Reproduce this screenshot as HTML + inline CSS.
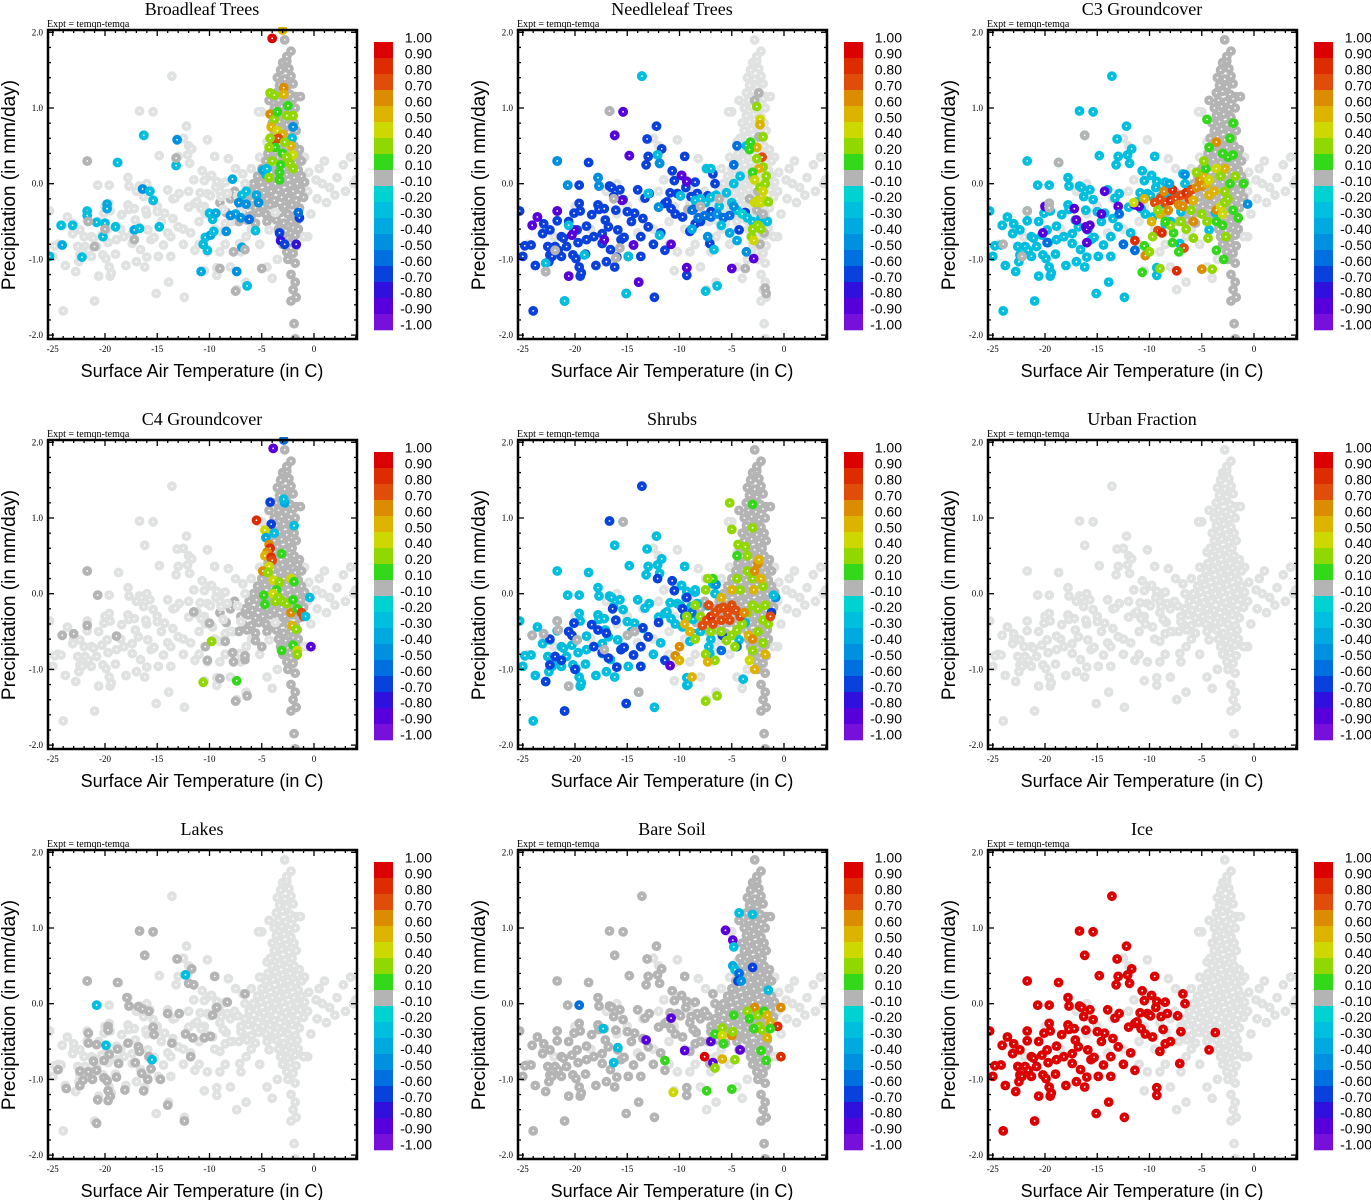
<!DOCTYPE html>
<html><head><meta charset="utf-8"><style>
html,body{margin:0;padding:0;background:#fff}
svg{display:block}
text{font-family:"Liberation Sans",sans-serif}
.serif{font-family:"Liberation Serif",serif}
</style></head><body>
<svg id="fig" xmlns="http://www.w3.org/2000/svg" width="1371" height="1200" viewBox="0 0 1371 1200"></svg>
<script>
// ---------- shared data ----------
const panelTitles = ["Broadleaf Trees","Needleleaf Trees","C3 Groundcover","C4 Groundcover","Shrubs","Urban Fraction","Lakes","Bare Soil","Ice"];
const xTicks = [-25,-20,-15,-10,-5,0];
const xTickLabels = ["-25","-20","-15","-10","-5","0"];
const yTicks = [2,1,0,-1,-2];
const yTickLabels = ["2.0","1.0","0.0","-1.0","-2.0"];
const cbEdges = [1.0,0.9,0.8,0.7,0.6,0.5,0.4,0.2,0.1,-0.1,-0.2,-0.3,-0.4,-0.5,-0.6,-0.7,-0.8,-0.9,-1.0];
const cbLabels = ["1.00","0.90","0.80","0.70","0.60","0.50","0.40","0.20","0.10","-0.10","-0.20","-0.30","-0.40","-0.50","-0.60","-0.70","-0.80","-0.90","-1.00"];
const cbColors = ["#dc0000","#dc2c00","#e04c0a","#dc8c00","#dcb400","#ccd800","#90d800","#34d81a","#b4b4b4","#00d2d2","#00bede","#00aae0","#0090e0","#0070e0","#0a40dc","#3010dc","#5800dc","#7810dc"];

const coldPts = [[-25.3,-0.36],[-25.0,-0.96],[-24.8,-0.82],[-24.2,-0.81],[-24.1,-0.55],[-23.8,-1.08],[-24.0,-1.68],[-23.6,-0.44],[-23.1,-0.66],[-23.0,-0.53],[-22.8,-1.16],[-22.6,-0.83],[-22.5,-1.03],[-22.4,-0.94],[-22.4,-0.61],[-22.2,-0.96],[-21.7,0.30],[-21.7,-0.36],[-21.7,-0.49],[-21.9,-0.83],[-21.6,-0.88],[-21.3,-0.96],[-21.3,-0.70],[-21.1,-0.72],[-21.0,-1.55],[-20.8,-0.83],[-20.6,-0.50],[-20.7,-0.02],[-20.6,-1.22],[-20.3,-0.68],[-20.2,-0.94],[-20.1,-0.39],[-19.9,-0.99],[-19.8,-0.61],[-19.7,-0.78],[-19.6,-0.02],[-19.6,-1.10],[-19.5,-1.22],[-19.4,-1.18],[-19.6,-0.26],[-19.5,-0.36],[-19.0,-0.93],[-18.9,-0.56],[-18.7,0.28],[-18.9,-0.74],[-18.4,-0.41],[-18.0,-1.08],[-18.2,-0.70],[-17.8,0.08],[-17.7,-0.03],[-17.8,-0.28],[-17.7,-0.34],[-17.4,-0.79],[-17.4,-0.66],[-17.2,-0.33],[-17.1,-0.48],[-17.0,-1.03],[-16.8,-0.57],[-16.7,-0.03],[-16.7,0.96],[-16.6,-0.87],[-16.5,-0.05],[-16.3,-0.17],[-16.2,0.64],[-16.2,-1.10],[-16.1,-0.35],[-16.0,-0.97],[-15.9,-0.61],[-15.7,-0.08],[-15.6,-0.74],[-15.4,0.95],[-15.4,-0.21],[-15.3,-0.71],[-15.1,-1.45],[-15.0,-0.37],[-14.9,-0.96],[-14.8,0.37],[-14.6,-0.50],[-14.4,-0.81],[-14.3,-0.39],[-14.0,-0.08],[-13.9,-1.30],[-13.7,-0.70],[-13.7,-0.96],[-13.6,1.42],[-13.5,-0.46],[-13.3,-0.19],[-13.2,0.25],[-13.0,0.36],[-13.0,-0.57],[-12.9,-0.13],[-13.1,0.59],[-12.5,-0.80],[-12.4,-1.50],[-12.2,0.76],[-12.1,0.38],[-12.0,-0.31],[-11.9,0.27],[-11.8,-0.65],[-11.7,0.46],[-11.4,-0.26],[-11.4,-0.88],[-11.2,-0.24],[-10.9,-0.12],[-10.8,-0.33],[-10.7,0.17],[-10.5,0.04],[-10.4,-0.40],[-10.2,-0.13],[-9.9,-0.16],[-9.8,0.11],[-9.7,-0.44],[-9.5,0.36],[-9.4,-0.05],[-9.3,-1.11],[-9.3,-1.21],[-9.3,0.03],[-9.0,-0.63],[-8.9,-0.17],[-8.7,-0.34],[-8.5,0.02],[-8.5,-0.53],[-8.3,-0.13],[-8.0,-0.50],[-7.3,-0.16],[-7.1,-0.79],[-7.0,-0.37],[-6.8,0.13],[-6.6,0.00],[-4.3,-0.61],[-3.7,-0.38]];

const corePts = [[-3.0,1.6],[-2.6,1.62],[-3.2,1.5],[-2.4,1.52],[-3.5,1.4],[-2.8,1.38],[-2.2,1.42],[-3.3,1.3],[-2.6,1.28],[-2.0,1.32],[-3.6,1.2],[-3.0,1.22],[-2.3,1.18],[-1.7,1.15],[-3.4,1.1],[-2.7,1.08],[-2.0,1.12],[-3.8,1.0],[-3.1,1.02],[-2.4,0.98],[-1.8,1.0],[-3.6,0.9],[-2.9,0.92],[-2.2,0.88],[-4.0,0.8],[-3.3,0.82],[-2.6,0.78],[-1.9,0.8],[-3.8,0.7],[-3.1,0.72],[-2.4,0.68],[-1.7,0.7],[-4.2,0.6],[-3.5,0.62],[-2.8,0.58],[-2.1,0.6],[-4.0,0.5],[-3.3,0.52],[-2.6,0.48],[-1.9,0.5],[-1.4,0.45],[-4.4,0.4],[-3.7,0.42],[-3.0,0.38],[-2.3,0.4],[-1.6,0.38],[-4.6,0.3],[-3.9,0.32],[-3.2,0.28],[-2.5,0.3],[-1.8,0.28],[-1.2,0.3],[-5.0,0.2],[-4.3,0.22],[-3.6,0.18],[-2.9,0.2],[-2.2,0.22],[-1.5,0.18],[-5.4,0.1],[-4.7,0.12],[-4.0,0.08],[-3.3,0.1],[-2.6,0.12],[-1.9,0.08],[-1.2,0.1],[-5.8,0.0],[-5.1,0.02],[-4.4,-0.02],[-3.7,0.0],[-3.0,0.02],[-2.3,-0.02],[-1.6,0.0],[-0.9,0.02],[-6.2,-0.1],[-5.5,-0.08],[-4.8,-0.12],[-4.1,-0.1],[-3.4,-0.08],[-2.7,-0.12],[-2.0,-0.1],[-1.3,-0.08],[-6.6,-0.2],[-5.9,-0.22],[-5.2,-0.18],[-4.5,-0.2],[-3.8,-0.22],[-3.1,-0.18],[-2.4,-0.2],[-1.7,-0.22],[-1.0,-0.18],[-7.0,-0.3],[-6.3,-0.28],[-5.6,-0.32],[-4.9,-0.3],[-4.2,-0.28],[-3.5,-0.32],[-2.8,-0.3],[-2.1,-0.28],[-1.4,-0.32],[-6.8,-0.4],[-6.0,-0.42],[-5.3,-0.38],[-4.6,-0.4],[-3.9,-0.42],[-3.2,-0.38],[-2.5,-0.4],[-1.8,-0.42],[-7.2,-0.5],[-6.4,-0.48],[-5.6,-0.52],[-4.5,-0.5],[-3.6,-0.48],[-2.9,-0.52],[-2.2,-0.5],[-1.6,-0.48],[-3.4,-0.6],[-2.7,-0.62],[-2.0,-0.58],[-1.5,-0.6],[-3.2,-0.7],[-2.5,-0.72],[-1.8,-0.68],[-3.0,-0.8],[-2.3,-0.78],[-1.7,-0.82],[-2.6,-0.9],[-2.0,-0.92],[-8.0,-0.2],[-9.0,-0.25],[-8.4,-0.38],[-7.6,-0.1],[-2.5,-1.0],[-1.8,-1.05],[-2.2,-1.2],[-1.8,-1.3],[-2.0,-1.4],[-1.7,-1.5],[-2.2,-1.55],[-1.9,-1.85],[-1.8,-2.05],[-2.8,1.9],[-2.2,1.75],[-2.6,1.68],[-3.6,1.2],[-4.3,1.1],[-1.3,1.15]];

const fringePts = [[-0.5,0.15],[0.2,0.05],[0.8,0.0],[1.5,-0.05],[2.2,0.08],[3.0,-0.1],[3.8,0.0],[2.8,0.25],[1.0,0.3],[-0.6,-0.1],[0.3,-0.2],[1.2,-0.25],[-0.3,-0.4],[-0.6,-0.7],[4.0,0.05],[2.0,-0.15],[-0.9,0.35],[3.5,0.35],[0.5,0.2],[-1.0,-0.7],[-9.0,-0.1],[-10.0,0.1],[-11.0,-0.5],[-9.5,-0.6],[-8.5,-0.8],[-7.8,-0.5],[-7.0,-0.9],[-6.0,-0.6],[-5.2,-0.8],[-4.5,-1.1],[-8.0,-1.1],[-6.5,-1.3],[-7.4,-1.4],[-9.0,-0.9],[-10.5,-1.15],[-10.2,-0.9],[-6.0,0.2],[-5.2,0.35],[-4.5,0.55],[-5.0,0.95],[-10.2,0.58],[-8.2,0.33],[-7.5,0.2],[-12.5,0.6],[-13.5,-0.2],[-12.0,-0.1],[-11.5,0.05],[-12.5,-0.6],[-11.0,-0.8],[-14.0,-0.65],[-15.0,-0.3],[-16.0,-0.4],[-17.0,-0.1],[-18.5,-0.6],[-20.0,-0.3],[-22.0,-0.7],[-23.0,-0.6],[-24.5,-0.8],[-3.5,-1.0],[-4.0,-1.25],[-5.3,0.95],[-16.0,0.0],[-12.0,0.5],[-6.5,-0.7],[-8.8,0.0],[-10.5,-0.3]];

// ---------- per panel values ----------
const coreValues = [0, null, 0, 0, 0, null, null, 0, null];
const coldDefaults = [null, -0.65, -0.22, null, -0.25, null, null, 0, 0.95];

const marksBroadleaf = [[-16.3,0.64,-0.25],[-13.1,0.58,-0.45],[-18.8,0.28,-0.3],[-13.2,0.24,-0.25],[-16.4,-0.07,-0.45],[-15.7,-0.1,-0.25],[-15.4,-0.22,-0.3],[-19.8,-0.27,-0.35],[-19.8,-0.33,-0.35],[-21.7,-0.36,-0.25],[-21.7,-0.42,-0.25],[-20.8,-0.51,-0.25],[-20.0,-0.52,-0.25],[-19.0,-0.57,-0.25],[-23.1,-0.55,-0.25],[-24.2,-0.55,-0.25],[-17.2,-0.61,-0.35],[-16.7,-0.59,-0.25],[-14.8,-0.57,-0.25],[-20.2,-0.7,-0.25],[-24.1,-0.81,-0.35],[-22.2,-0.97,-0.3],[-25.3,-0.96,-0.25],[-10.8,-1.16,-0.35],[-7.4,-1.16,-0.45],[-6.4,-1.35,-0.25],[-10.4,-0.71,-0.3],[-9.9,-0.68,-0.4],[-9.6,-0.63,-0.3],[-8.4,-0.63,-0.45],[-10.6,-0.8,-0.3],[-10.2,-0.88,-0.25],[-6.9,-0.84,-0.35],[-5.6,-0.62,-0.25],[-10.0,-0.39,-0.25],[-9.7,-0.47,-0.25],[-9.4,-0.39,-0.4],[-7.8,0.06,-0.35],
[-21.7,0.3,0],[-13.2,0.34,0],[-21.6,-0.5,0],[-20.0,-0.6,0],[-17.2,-0.74,0],[-21.0,-0.83,0],[-9.0,-1.12,0],[-7.5,-1.42,0],[-5.0,-1.12,0],[-7.7,-0.9,0],[-6.6,-0.87,0],
[-4.6,0.12,-0.25],[-4.9,0.18,-0.4],[-6.5,-0.1,-0.3],[-6.9,-0.15,-0.3],[-5.5,-0.15,-0.35],[-7.2,-0.25,-0.45],[-6.5,-0.27,-0.45],[-5.3,-0.25,-0.5],[-7.5,-0.4,-0.35],[-7.0,-0.45,-0.5],[-6.2,-0.47,-0.55],[-8.0,-0.42,-0.5],[-3.3,-0.65,-0.65],[-3.2,-0.75,-0.75],[-2.8,-0.8,-0.7],[-1.7,-0.8,-0.8],[-1.4,-0.45,-0.65],[-1.5,-0.38,-0.6],[-2.0,0.75,-0.5],[-2.1,0.6,-0.25],[-4.5,0.2,-0.25],
[-4.0,1.92,0.95],[-3.0,2.03,0.55],[-2.9,1.27,0.6],[-2.9,1.18,0.5],[-4.2,1.2,0.35],[-3.8,1.17,0.2],[-2.5,1.03,0.15],[-4.2,0.92,0.65],[-3.8,0.85,0.35],[-2.6,0.9,0.35],[-2.0,0.9,0.2],[-4.1,0.75,0.5],[-3.5,0.7,0.45],[-3.0,0.65,0.5],[-3.7,0.58,0.85],[-3.4,0.6,0.7],[-4.2,0.6,0.25],[-3.7,0.48,0.15],[-4.3,0.48,0.25],[-2.2,0.5,0.55],[-2.0,0.38,0.45],[-3.0,0.4,0.15],[-2.6,0.35,0.3],[-2.3,0.27,0.3],[-3.2,0.25,0.15],[-2.0,0.2,0.2],[-3.3,0.15,0.15],[-4.3,0.08,0.25],[-3.3,0.05,0.15],[-2.8,0.55,0.2],[-3.5,0.95,0.15],[-4.0,0.3,0.35]];

const marksNeedleleaf = [[-15.4,0.95,-0.85],[-16.2,0.64,-0.85],[-14.8,0.37,-0.85],[-24.1,-0.55,-0.85],[-23.6,-0.44,-0.85],[-21.7,-0.36,-0.85],[-20.1,-0.61,-0.85],[-20.3,-0.68,-0.85],[-17.2,-0.74,-0.85],[-14.4,-0.81,-0.85],[-13.9,-1.3,-0.85],[-9.3,-1.11,-0.85],[-9.8,0.11,-0.85],[-9.3,0.03,-0.85],[-15.5,-0.22,-0.85],[-20.6,-1.22,-0.85],[-10.8,-0.8,-0.85],[-5.0,-1.12,-0.85],[-2.9,-0.99,-0.85],
[-13.6,1.42,-0.25],[-12.1,0.38,-0.25],[-20.6,-0.55,-0.25],[-21.0,-1.55,-0.25],[-15.1,-1.45,-0.25],[-22.8,-1.05,-0.25],[-19.1,-0.94,-0.25],[-14.9,-0.96,-0.25],[-7.5,-1.42,-0.25],[-6.4,-1.35,-0.25],[-11.9,-0.68,-0.25],[-6.7,-0.87,-0.25],[-13.0,-0.13,-0.25],[-9.9,-0.16,-0.25],
[-21.7,0.30,-0.45],[-17.8,0.08,-0.45],[-17.7,-0.03,-0.45],[-20.7,-0.02,-0.45],[-12.0,-0.31,-0.45],[-11.9,0.27,-0.45],
[-16.7,0.96,0],[-22.8,-1.16,0],[-16.1,-0.98,0],[-15.7,-0.85,0],[-21.9,-0.88,0],[-9.2,-0.34,0],[-16.3,-0.2,0],
[-8.5,-0.22,-0.25],[-8.0,-0.2,-0.3],[-7.5,-0.25,-0.25],[-7.0,-0.18,-0.3],[-6.5,-0.15,-0.25],[-6.2,-0.3,-0.25],[-5.5,-0.12,-0.3],[-5.0,-0.25,-0.25],[-4.5,-0.35,-0.25],[-4.0,-0.4,-0.2],[-3.5,-0.45,-0.25],[-8.8,-0.35,-0.55],[-8.2,-0.45,-0.6],[-7.6,-0.42,-0.55],[-7.0,-0.44,-0.6],[-6.4,-0.4,-0.5],[-5.8,-0.45,-0.6],[-5.2,-0.42,-0.55],[-4.8,-0.3,-0.5],[-8.8,-0.6,-0.4],[-7.3,-0.7,-0.5],[-5.2,-0.65,-0.35],[-4.5,-0.75,-0.35],[-4.8,0.0,-0.25],[-4.2,0.1,-0.3],[-4.8,0.25,-0.6],[-4.5,0.5,-0.6],[-3.6,0.5,-0.3],[-7.4,0.2,-0.3],[-7.0,0.2,-0.25],[-6.0,-0.55,-0.3],[-3.6,-0.9,-0.5],[-3.0,-0.5,-0.3],[-2.2,-0.45,-0.25],[-1.6,-0.5,-0.3],
[-2.4,1.2,0],[-2.8,1.1,0],[-2.4,0.62,0],[-3.0,0.1,0],[-2.5,-0.1,0],[-2.0,-0.4,0],[-2.6,-0.35,0],[-2.3,-0.8,0],[-1.9,-0.65,0],[-3.3,-0.2,0],[-1.8,-1.38,0],[-1.7,-1.45,0],[-6.2,-0.2,0],[-8.0,-0.3,0],[-3.7,-1.12,0],
[-2.6,1.02,0.2],[-2.3,0.85,0.4],[-2.3,0.78,0.55],[-2.0,0.62,0.2],[-2.6,0.48,0.55],[-3.2,0.55,0.15],[-2.1,0.35,0.7],[-2.6,0.33,0.3],[-2.0,0.22,0.2],[-2.4,0.2,0.5],[-3.0,0.15,0.15],[-2.8,0.05,0.4],[-1.8,0.0,0.2],[-2.3,-0.05,0.2],[-2.0,-0.1,0.4],[-2.8,-0.25,0.45],[-2.5,-0.22,0.4],[-2.2,-0.25,0.45],[-1.8,-0.22,0.4],[-1.5,-0.24,0.3],[-3.0,-0.6,0.2],[-3.1,-0.7,0.3],[-2.9,-0.75,0.4],[-2.5,-0.55,0.2],[-2.2,-0.6,0.25],[-3.3,0.45,0.15],[-1.7,0.1,0.3]];

const marksC3 = [[-17.2,-0.33,-0.85],[-17.0,-0.48,-0.85],[-16.1,-0.57,-0.85],[-16.0,-0.6,-0.85],[-15.7,-0.55,-0.85],[-14.6,-0.4,-0.85],[-20.0,-0.3,-0.85],[-20.2,-0.65,-0.85],[-14.3,-0.1,-0.85],[-13.0,-0.3,-0.85],[-11.4,-0.28,-0.85],[-11.0,-0.3,-0.85],[-16.0,-0.78,-0.85],
[-19.8,-0.78,-0.6],[-12.5,-0.8,-0.6],[-11.4,-0.88,-0.6],[-12.9,-0.4,-0.6],
[-16.2,0.64,0],[-18.7,0.28,0],[-21.7,-0.36,0],[-24.0,-0.8,0],[-22.2,-0.96,0],[-19.6,-0.26,0],[-19.6,-0.32,0],
[-9.5,-0.25,0.7],[-9.0,-0.2,0.75],[-8.5,-0.25,0.75],[-8.0,-0.22,0.8],[-7.5,-0.2,0.75],[-7.0,-0.15,0.75],[-6.5,-0.12,0.8],[-6.0,-0.08,0.7],[-5.5,-0.05,0.6],[-5.0,-0.03,0.6],[-4.5,0.0,0.55],[-5.2,0.05,0.6],[-4.8,0.1,0.55],[-6.2,-0.2,0.7],[-7.2,-0.28,0.65],[-8.2,-0.35,0.6],[-9.0,-0.4,0.55],[-8.6,-0.1,0.65],[-7.8,-0.08,0.8],[-6.8,-0.3,0.6],[-5.8,-0.22,0.55],[-4.3,-0.15,0.5],[-3.8,-0.1,0.5],[-3.6,-0.35,0.6],[-3.2,-0.3,0.45],[-3.0,-0.4,0.4],[-2.8,-0.25,0.35],[-3.6,0.55,0.6],[-2.8,0.2,0.5],[-3.6,0.2,0.45],[-4.3,0.05,0.4],[-9.8,-0.5,0.5],[-10.5,-0.2,0.5],[-11.5,-0.25,0.45],[-9.2,-0.62,0.75],[-8.8,-0.65,0.8],[-11.4,-0.75,0.8],[-10.4,-0.95,0.6],[-6.7,-0.85,0.75],[-7.4,-1.15,0.8],[-5.0,-1.13,0.65],[-5.8,-0.5,0.6],
[-4.5,0.85,0.15],[-2.0,0.8,0.15],[-2.3,0.6,0.15],[-4.3,0.48,0.15],[-3.0,0.4,0.15],[-2.5,0.35,0.15],[-2.0,0.38,0.15],[-4.6,0.2,0.15],[-3.2,0.1,0.2],[-2.3,0.0,0.15],[-1.0,0.0,0.15],[-2.5,-0.2,0.2],[-2.0,-0.35,0.15],[-1.5,-0.45,0.15],[-3.6,-0.5,0.15],[-3.0,-0.55,0.15],[-2.7,-0.7,0.25],[-4.4,-0.72,0.3],[-3.6,-0.88,0.15],[-2.9,-1.0,0.15],[-4.0,-1.13,0.25],[-5.8,-0.72,0.3],[-7.7,-0.65,0.15],[-7.8,-0.78,0.15],[-7.2,-0.9,0.15],[-9.7,-0.7,0.25],[-10.5,-0.82,0.15],[-10.0,-0.9,0.3],[-10.7,-1.17,0.15],[-9.0,-1.12,0.25],[-8.0,-0.55,0.2],[-7.0,-0.5,0.25],[-6.0,-0.35,0.25],[-5.0,-0.4,0.3],[-4.5,-0.5,0.2],[-9.2,-0.35,0.3],[-8.5,-0.5,0.15],[-5.5,0.15,0.2],[-4.8,0.3,0.2],[-2.8,-0.1,0.3],[-1.8,0.1,0.2],[-6.5,-0.6,0.3],
[-0.6,-0.27,-0.5],[-6.6,0.12,-0.5],[-8.1,0.0,-0.4]];

const marksC4 = [[-21.7,0.3,0],[-20.7,-0.02,0],[-21.7,-0.42,0],[-24.1,-0.55,0],[-23.0,-0.53,0],[-18.9,-0.56,0],[-11.5,-0.24,0],[-10.0,-0.39,0],[-10.4,-0.7,0],[-10.2,-0.88,0],[-9.0,-1.12,0],[-8.5,-0.63,0],[-7.8,-0.78,0],[-7.7,-0.9,0],[-6.6,-0.87,0],[-6.6,-0.82,0],[-7.5,-1.42,0],[-6.4,-1.35,0],[-5.6,-0.62,0],[-5.0,-0.7,0],
[-3.9,1.92,-0.9],[-2.9,2.03,-0.6],[-4.2,1.21,-0.65],[-2.8,1.2,-0.4],[-2.9,1.25,-0.25],[-5.5,0.97,0.8],[-4.1,0.92,-0.65],[-4.7,0.84,0.45],[-3.8,0.8,-0.25],[-4.6,0.74,-0.4],[-1.9,0.9,-0.25],[-4.3,0.65,0.65],[-4.2,0.6,0.85],[-4.5,0.55,0.6],[-4.7,0.5,0.5],[-4.1,0.48,0.8],[-4.0,0.44,0.75],[-3.1,0.53,0.15],[-4.3,0.36,0.45],[-4.9,0.3,0.65],[-4.4,0.28,0.35],[-3.9,0.18,0.4],[-3.3,0.15,0.35],[-2.2,0.2,0.45],[-1.9,0.16,0.15],[-3.6,0.05,0.15],[-4.8,-0.02,0.15],[-4.7,-0.14,0.15],[-3.9,0.0,0.45],[-3.4,-0.05,0.35],[-3.0,-0.1,0.3],[-2.6,-0.13,0.3],[-2.0,-0.08,0.15],[-3.7,-0.1,0.3],[-2.2,-0.25,0.6],[-1.6,-0.2,0.15],[-1.2,-0.25,0.7],[-1.0,-0.3,0.7],[-0.4,-0.05,-0.25],[-0.8,-0.3,-0.25],[-2.1,-0.42,0.5],[-1.7,-0.47,0.35],[-0.3,-0.7,-0.85],[-2.0,-0.68,0.15],[-3.1,-0.75,0.15],[-1.6,-0.75,0.45],[-1.6,-0.8,0.35],[-9.8,-0.63,0.3],[-10.6,-1.17,0.3],[-7.4,-1.15,0.15]];

const marksShrubs = [[-16.7,0.96,-0.65],[-13.6,1.42,-0.65],[-12.1,0.2,-0.65],[-10.7,0.17,-0.65],[-10.5,0.04,-0.65],[-16.4,-0.2,-0.65],[-16.1,-0.35,-0.65],[-20.1,-0.39,-0.65],[-18.4,-0.41,-0.65],[-17.8,-0.48,-0.65],[-17.0,-0.52,-0.65],[-20.6,-0.5,-0.65],[-20.3,-0.55,-0.65],[-22.4,-0.6,-0.65],[-21.9,-0.83,-0.65],[-21.3,-0.88,-0.65],[-22.8,-1.16,-0.65],[-22.4,-0.94,-0.65],[-20.0,-1.0,-0.65],[-18.2,-0.7,-0.65],[-17.4,-0.78,-0.65],[-16.8,-0.85,-0.65],[-16.0,-0.97,-0.65],[-15.6,-0.74,-0.65],[-15.3,-0.71,-0.65],[-14.4,-0.81,-0.65],[-13.7,-0.7,-0.65],[-13.7,-0.96,-0.65],[-15.1,-1.45,-0.65],[-21.0,-1.55,-0.65],[-13.5,-0.45,-0.65],[-13.0,-0.57,-0.65],[-12.0,-0.38,-0.65],[-11.4,-0.88,-0.65],[-10.9,-0.95,-0.85],[-9.7,-0.2,-0.65],[-9.3,-0.05,-0.65],
[-24.1,-0.55,0],[-23.0,-0.53,0],[-21.7,-0.36,0],[-21.6,-0.48,0],[-20.6,-1.22,0],[-19.8,-0.61,0],[-17.2,-0.74,0],[-15.4,0.95,0],[-13.9,-1.3,0],[-14.3,-0.5,0],[-15.0,-0.55,0],
[-5.9,-0.55,-0.65],[-4.5,-0.7,-0.6],[-1.2,-0.25,-0.7],[-0.8,-0.05,-0.5],[-1.0,-0.02,-0.25],[-8.8,-0.25,-0.6],[-8.5,0.05,-0.3],[-6.5,0.12,-0.5],[-7.0,-0.6,-0.25],[-7.2,-0.7,-0.3],[-6.0,-0.75,-0.55],[-3.9,-1.13,-0.25],[-9.2,-1.2,-0.25],[-9.5,-0.3,-0.6],
[-5.2,1.2,0.3],[-3.0,1.18,0.15],[-5.0,0.85,0.3],[-4.4,0.65,0.3],[-3.0,0.87,0.35],[-4.5,0.5,0.15],[-3.5,0.5,0.2],[-3.5,0.3,0.2],[-3.0,0.2,0.25],[-2.0,0.1,0.3],[-4.5,0.2,0.2],[-6.8,0.2,0.15],[-7.5,0.05,0.25],[-8.5,-0.15,0.3],[-8.0,-0.3,0.2],[-7.0,-0.5,0.25],[-6.0,-0.5,0.3],[-5.0,-0.55,0.2],[-4.5,-0.48,0.25],[-4.0,-0.4,0.3],[-3.5,-0.25,0.3],[-3.0,-0.15,0.3],[-2.5,-0.2,0.2],[-2.0,-0.35,0.3],[-1.5,-0.4,0.25],[-1.8,-0.15,0.2],[-2.5,-0.5,0.3],[-3.0,-0.75,0.3],[-2.0,-0.65,0.3],[-5.5,-0.62,0.3],[-4.7,-0.7,0.2],[-6.6,-0.88,0.2],[-7.5,-1.42,0.2],[-6.4,-1.35,0.2],[-7.5,-0.8,0.3],[-8.5,-0.6,0.3],[-9.3,-0.3,0.2],[-7.3,0.2,0.3],[-4.2,0.05,0.3],[-3.7,0.62,0.25],
[-7.8,-0.42,0.75],[-7.4,-0.35,0.75],[-7.0,-0.3,0.8],[-6.6,-0.25,0.75],[-6.2,-0.2,0.75],[-5.8,-0.18,0.7],[-5.4,-0.25,0.75],[-5.0,-0.15,0.7],[-4.6,-0.22,0.75],[-4.2,-0.3,0.75],[-6.8,-0.4,0.75],[-6.0,-0.35,0.7],[-5.2,-0.35,0.75],[-7.2,-0.15,0.7],[-3.8,-0.25,0.6],[-2.8,0.3,0.6],[-2.5,0.4,0.6],[-2.2,0.2,0.55],[-2.9,0.05,0.5],[-5.0,0.05,0.55],[-6.0,-0.05,0.5],[-9.5,-0.4,0.5],[-9.0,-0.5,0.55],[-10.0,-0.7,0.6],[-10.4,-0.82,0.6],[-10.0,-0.88,0.5],[-8.8,-1.1,0.55],[-7.3,-0.9,0.5],[-3.3,-0.88,0.45],[-2.8,-1.0,0.55],[-1.8,-0.8,0.5],[-3.4,-0.55,0.5],[-3.0,-0.6,0.6],[-1.3,-0.3,0.7],[-2.4,0.45,0.55]];

const marksUrban = [];

const marksLakes = [[-16.7,0.96,0],[-15.4,0.95,0],[-16.2,0.64,0],[-13.1,0.59,0],[-11.7,0.46,0],[-9.5,0.36,0],[-21.7,0.3,0],[-18.8,0.28,0],[-17.9,0.08,0],[-17.7,-0.03,0],[-16.8,-0.04,0],[-16.4,-0.07,0],[-15.8,-0.1,0],[-14.0,-0.13,0],[-12.9,-0.13,0],[-12.0,0.27,0],[-11.5,0.25,0],[-6.6,0.13,0],[-8.3,0.02,0],[-9.3,-0.05,0],[-9.7,-0.15,0],[-19.7,-0.3,0],[-19.7,-0.35,0],[-21.6,-0.39,0],[-21.6,-0.52,0],[-20.8,-0.54,0],[-15.4,-0.31,0],[-15.3,-0.41,0],[-12.3,-0.4,0],[-11.6,-0.45,0],[-10.5,-0.45,0],[-9.9,-0.43,0],[-17.8,-0.52,0],[-16.8,-0.57,0],[-16.7,-0.63,0],[-13.6,-0.52,0],[-11.8,-0.7,0],[-18.8,-0.6,0],[-20.1,-0.75,0],[-19.6,-0.67,0],[-21.1,-0.76,0],[-20.8,-0.88,0],[-22.4,-0.89,0],[-21.6,-0.9,0],[-24.5,-0.87,0],[-22.1,-1.01,0],[-21.2,-1.0,0],[-20.1,-0.98,0],[-19.8,-1.02,0],[-18.9,-0.97,0],[-22.4,-1.08,0],[-23.7,-1.12,0],[-19.7,-1.15,0],[-19.5,-1.22,0],[-19.7,-1.28,0],[-20.7,-1.27,0],[-18.1,-1.14,0],[-16.3,-1.15,0],[-18.7,-0.79,0],[-17.1,-0.78,0],[-16.5,-0.92,0],[-15.9,-1.0,0],[-14.7,-1.0,0],[-15.8,-0.7,0],[-15.6,-0.86,0],[-14.0,-1.34,0],[-12.4,-1.55,0],[-20.8,-1.58,0],
[-20.8,-0.02,-0.25],[-12.3,0.38,-0.25],[-19.9,-0.55,-0.25],[-15.5,-0.74,-0.25]];

const marksBareSoil = [[-17.3,-0.33,-0.25],[-15.9,-0.58,-0.25],[-16.3,-0.78,-0.25],[-19.6,-0.02,-0.6],[-10.8,-0.19,-0.9],[-13.2,-0.48,-0.9],[-9.5,-0.62,-0.9],[-6.8,-0.78,-0.9],[-4.2,-0.61,-0.9],[-5.6,0.97,-0.9],[-4.9,0.84,-0.9],[-7.0,-0.5,-0.9],
[-4.3,1.2,-0.25],[-3.0,1.18,-0.25],[-4.8,0.75,-0.3],[-4.9,0.5,-0.4],[-4.7,0.45,-0.3],[-4.3,0.4,-0.6],[-4.4,0.3,-0.7],[-4.1,0.3,-0.5],[-3.0,0.48,-0.7],[-1.5,0.18,-0.3],[-2.8,-0.05,0.65],[-3.5,-0.1,0.3],[-3.3,-0.2,0.15],[-2.5,-0.15,0.2],[-1.9,-0.1,0.15],[-1.6,-0.15,0.5],[-1.3,-0.25,0.55],[-0.6,-0.3,0.8],[-0.3,-0.05,0.65],[-0.3,-0.7,0.8],[-2.4,-0.3,0.3],[-2.1,-0.35,0.2],[-1.3,-0.33,0.15],[-2.9,-0.33,0.15],[-1.6,-0.45,0.5],[-5.9,-0.32,0.3],[-6.6,-0.4,0.15],[-5.9,-0.42,0.4],[-5.0,-0.42,0.65],[-4.9,-0.37,0.3],[-5.8,-0.53,0.15],[-7.6,-0.7,0.9],[-5.9,-0.73,0.5],[-4.7,-0.74,0.3],[-2.2,-0.62,0.15],[-1.7,-0.75,0.15],[-6.6,-0.85,0.3],[-11.4,-0.75,0.15],[-7.4,-1.15,0.15],[-5.0,-1.13,0.15],[-10.6,-1.17,0.45],[-4.8,-0.15,0.15]];

const marksIce = [];

const panelMarks = [marksBroadleaf, marksNeedleleaf, marksC3, marksC4, marksShrubs, marksUrban, marksLakes, marksBareSoil, marksIce];

// ---------- drawing ----------
const NS = "http://www.w3.org/2000/svg";
const svg = document.getElementById("fig");
const BOX = {l:48, r:357, t:30, b:339};
const LIGHT = "#e0e2e2";
function xScale(t){ return 314 + 10.45 * t; }
function yScale(p){ return 183.7 - 75.7 * p; }
function colorOf(v){
  if (v === null || v === undefined) return LIGHT;
  for (let i = 0; i < cbColors.length; i++) { if (v >= cbEdges[i+1]) return cbColors[i]; }
  return cbColors[cbColors.length-1];
}
function mk(tag, attrs, parent){
  const el = document.createElementNS(NS, tag);
  for (const k in attrs) el.setAttribute(k, attrs[k]);
  parent.appendChild(el);
  return el;
}
function dot(g, t, p, v){
  const c = mk("circle", {cx: xScale(t).toFixed(1), cy: yScale(p).toFixed(1), r: 2.9, fill: "#fff", stroke: colorOf(v), "stroke-width": 4.0}, g);
  
  
}

for (let k = 0; k < 9; k++) {
  const ox = (k % 3) * 470, oy = Math.floor(k / 3) * 410;
  const g = mk("g", {transform: `translate(${ox},${oy})`}, svg);
  
  

  const title = mk("text", {x: 202, y: 15, "text-anchor": "middle", "font-size": 18, class: "serif"}, g);
  title.textContent = panelTitles[k];
  
  

  const ex = mk("text", {x: 47, y: 27, "font-size": 10, class: "serif"}, g);
  ex.textContent = "Expt = temqn-temqa";
  
  

  const cid = "clip" + k;
  const cp = mk("clipPath", {id: cid}, g);
  mk("rect", {x: BOX.l, y: BOX.t - 3, width: BOX.r - BOX.l, height: BOX.b - BOX.t + 3}, cp);
  const pts = mk("g", {"clip-path": `url(#${cid})`}, g);
  
  

  fringePts.forEach(d => dot(pts, d[0], d[1], null));
  corePts.forEach(d => dot(pts, d[0], d[1], coreValues[k]));
  coldPts.forEach(d => dot(pts, d[0], d[1], coldDefaults[k]));
  panelMarks[k].forEach(d => dot(pts, d[0], d[1], d[2]));

  const fr = mk("rect", {x: BOX.l, y: BOX.t, width: BOX.r - BOX.l, height: BOX.b - BOX.t, fill: "none", stroke: "#000", "stroke-width": 2.5}, g);
  
  

  for (let t = -25; t <= 4; t++) {
    const x = xScale(t); const len = (t % 5 === 0) ? 6 : 3;
    mk("line", {x1: x, x2: x, y1: BOX.b, y2: BOX.b - len, stroke: "#000", "stroke-width": 1.3}, g);
    mk("line", {x1: x, x2: x, y1: BOX.t, y2: BOX.t + len, stroke: "#000", "stroke-width": 1.3}, g);
  }
  xTicks.forEach((t, i) => {
    const tl = mk("text", {x: xScale(t), y: 352, "text-anchor": "middle", "font-size": 9, class: "serif"}, g);
    tl.textContent = xTickLabels[i];
    
    
  });
  for (let j = -10; j <= 10; j++) {
    const p = j * 0.2; const y = yScale(p); const len = (j % 5 === 0) ? 6 : 3;
    mk("line", {x1: BOX.l, x2: BOX.l + len, y1: y, y2: y, stroke: "#000", "stroke-width": 1.3}, g);
    mk("line", {x1: BOX.r, x2: BOX.r - len, y1: y, y2: y, stroke: "#000", "stroke-width": 1.3}, g);
  }
  yTicks.forEach((p, i) => {
    const tl = mk("text", {x: 43, y: yScale(p) + 3, "text-anchor": "end", "font-size": 9, class: "serif"}, g);
    tl.textContent = yTickLabels[i];
    
    
  });

  const xt = mk("text", {x: 202, y: 377, "text-anchor": "middle", "font-size": 18}, g);
  xt.textContent = "Surface Air Temperature (in C)";
  
  

  const yt = mk("text", {x: 0, y: 0, "text-anchor": "middle", "font-size": 19, transform: "translate(15,185) rotate(-90)"}, g);
  yt.textContent = "Precipitation (in mm/day)";
  
  

  const cb = mk("g", {}, g);
  
  
  cbColors.forEach((c, i) => {
    const r = mk("rect", {x: 374, y: 42 + i * 16, width: 19, height: 16.3, fill: c}, cb);
    
    
  });
  cbLabels.forEach((s, i) => {
    const tl = mk("text", {x: 432, y: 42.5 + i * 15.95, "text-anchor": "end", "font-size": 14}, cb);
    tl.textContent = s;
    
    
  });
}
</script>
</body></html>
